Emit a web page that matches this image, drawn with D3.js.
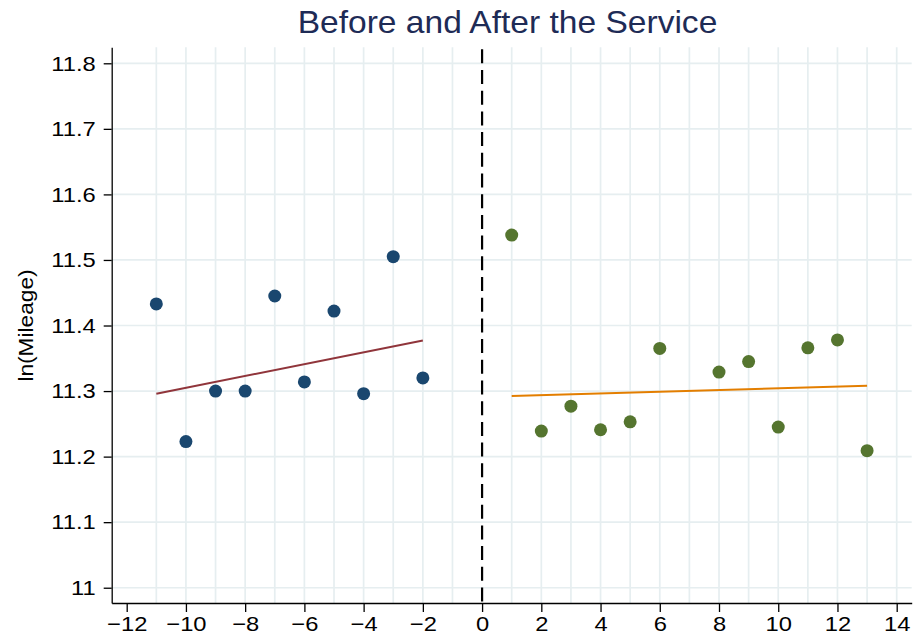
<!DOCTYPE html>
<html>
<head>
<meta charset="utf-8">
<script src="https://cdn.jsdelivr.net/npm/d3@7"></script>
<style>
  html, body { margin: 0; padding: 0; background: #ffffff; }
  svg { display: block; font-family: "Liberation Sans", Arial, Helvetica, sans-serif; }
</style>
</head>
<body>
<svg id="chart" width="916" height="644"></svg>
<script>
// Event-time bins (months relative to the service) and mean ln(mileage)
const beforeX = [-11, -10, -9, -8, -7, -6, -5, -4, -3, -2];
const beforeY = [11.433, 11.223, 11.300, 11.300, 11.445, 11.314, 11.422, 11.296, 11.505, 11.320];

const afterX = [1, 2, 3, 4, 5, 6, 8, 9, 10, 11, 12, 13];
const afterY = [11.538, 11.239, 11.277, 11.241, 11.253, 11.365, 11.329, 11.345, 11.245, 11.366, 11.378, 11.209];

// Linear fits on each side of the service date (endpoints)
const beforeFitX = [-11, -2];
const beforeFitY = [11.296, 11.377];
const afterFitX = [1, 13];
const afterFitY = [11.2925, 11.308];

// Axis ticks and labels
const xTicks = [-12, -10, -8, -6, -4, -2, 0, 2, 4, 6, 8, 10, 12, 14];
const xGrid = [-11, -10, -9, -8, -7, -6, -5, -4, -3, -2, -1, 1, 2, 3, 4, 5, 6, 7, 8, 9, 10, 11, 12, 13, 14];
const yTicks = [11, 11.1, 11.2, 11.3, 11.4, 11.5, 11.6, 11.7, 11.8];
const yTickLabels = ["11", "11.1", "11.2", "11.3", "11.4", "11.5", "11.6", "11.7", "11.8"];

const titleText = "Before and After the Service";
const yTitle = "ln(Mileage)";

// Plot region
const plotLeft = 111.7, plotRight = 911.7, plotTop = 47.3, plotBottom = 603;

const svg = d3.select("#chart");

const x = d3.scaleLinear().domain([-12.5065, 14.5065]).range([plotLeft, plotRight]);
const y = d3.scaleLinear().domain([10.9767, 11.8244]).range([plotBottom, plotTop]);

// Widen glyphs slightly, keeping the anchor in place
function widen(sel, k) {
  sel.each(function () {
    const w = this.getComputedTextLength();
    this.setAttribute("textLength", (w * k).toFixed(2));
    this.setAttribute("lengthAdjust", "spacingAndGlyphs");
  });
}

// Grid
const grid = svg.append("g").attr("stroke", "#e6eef0").attr("stroke-width", 1.7);
grid.selectAll("line.v").data(xGrid).join("line")
  .attr("class", "v")
  .attr("x1", d => x(d)).attr("x2", d => x(d))
  .attr("y1", plotTop).attr("y2", plotBottom);
grid.selectAll("line.h").data(yTicks).join("line")
  .attr("class", "h")
  .attr("x1", plotLeft).attr("x2", plotRight)
  .attr("y1", d => y(d)).attr("y2", d => y(d));

// Service date
svg.append("line")
  .attr("x1", x(0)).attr("x2", x(0))
  .attr("y1", plotTop + 2).attr("y2", plotBottom)
  .attr("stroke", "#000").attr("stroke-width", 2.2)
  .attr("stroke-dasharray", "14,6.7");

// Fit lines
const line = d3.line().x(d => x(d[0])).y(d => y(d[1]));
svg.append("path")
  .datum(d3.zip(beforeFitX, beforeFitY))
  .attr("d", line)
  .attr("fill", "none").attr("stroke", "#90353b").attr("stroke-width", 2);
svg.append("path")
  .datum(d3.zip(afterFitX, afterFitY))
  .attr("d", line)
  .attr("fill", "none").attr("stroke", "#e37e00").attr("stroke-width", 2);

// Binned means
svg.append("g").selectAll("circle").data(d3.zip(beforeX, beforeY)).join("circle")
  .attr("cx", d => x(d[0])).attr("cy", d => y(d[1])).attr("r", 6.5)
  .attr("fill", "#1a476f");
svg.append("g").selectAll("circle").data(d3.zip(afterX, afterY)).join("circle")
  .attr("cx", d => x(d[0])).attr("cy", d => y(d[1])).attr("r", 6.5)
  .attr("fill", "#55752f");

// Axes
const xAxis = d3.axisBottom(x).tickValues(xTicks).tickSize(9).tickSizeOuter(0).tickPadding(4)
  .tickFormat(d3.format("d"));
const gx = svg.append("g").attr("transform", `translate(0,${plotBottom})`).call(xAxis);

const yAxis = d3.axisLeft(y).tickValues(yTicks).tickSize(8).tickSizeOuter(0).tickPadding(8)
  .tickFormat((d, i) => yTickLabels[i]);
const gy = svg.append("g").attr("transform", `translate(${plotLeft},0)`).call(yAxis);

[gx, gy].forEach(g => {
  g.attr("font-family", null).attr("font-size", null);
  g.select(".domain").attr("stroke", "#000").attr("stroke-width", 1.3);
  g.selectAll(".tick line").attr("stroke", "#000").attr("stroke-width", 1.3);
  g.selectAll(".tick text").attr("fill", "#000").style("font-size", "21px");
  widen(g.selectAll(".tick text"), 1.13);
});

// Titles
const title = svg.append("text")
  .attr("x", 507.5).attr("y", 33)
  .attr("text-anchor", "middle")
  .attr("fill", "#1e2b56")
  .style("font-size", "30.5px")
  .text(titleText);
widen(title, 1.1);

const yLab = svg.append("text")
  .attr("transform", "translate(33,325.5) rotate(-90)")
  .attr("text-anchor", "middle")
  .attr("fill", "#000")
  .style("font-size", "21px")
  .text(yTitle);
widen(yLab, 1.08);
</script>
</body>
</html>
